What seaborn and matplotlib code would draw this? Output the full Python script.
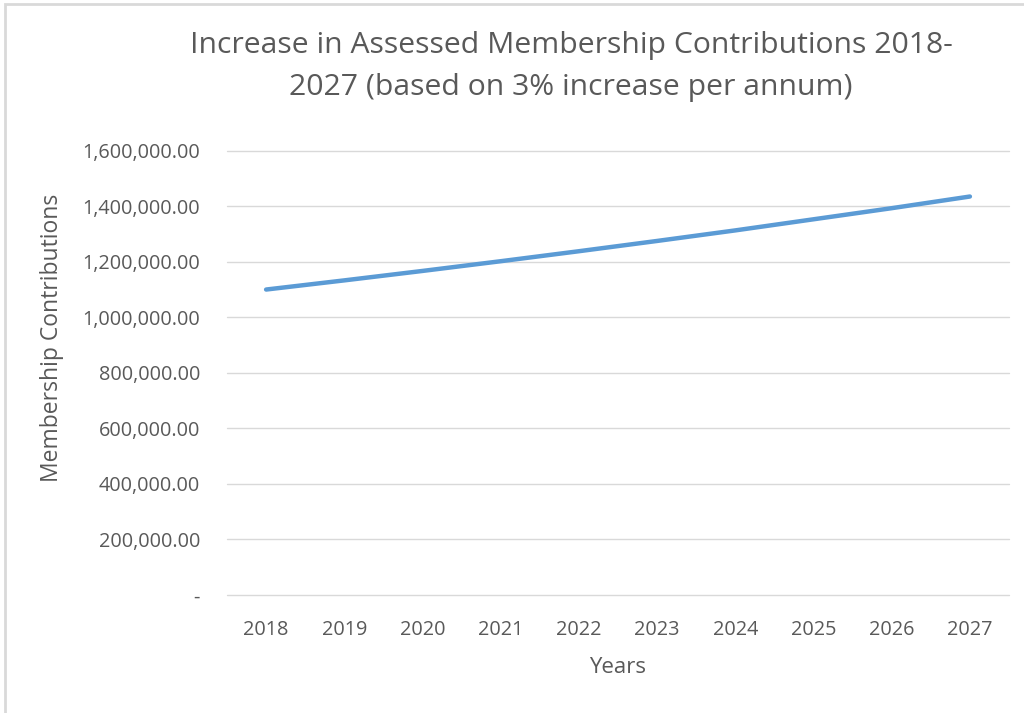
import matplotlib
matplotlib.use("Agg")
import matplotlib.pyplot as plt
import seaborn as sns
import pandas as pd
from matplotlib.ticker import FuncFormatter
from matplotlib.patches import Rectangle

years = ["2018", "2019", "2020", "2021", "2022", "2023", "2024", "2025", "2026", "2027"]
contributions = [1100000, 1133000, 1167000, 1202000, 1238000, 1275000, 1313000, 1353000, 1393000, 1435000]
y_ticks = [0, 200000, 400000, 600000, 800000, 1000000, 1200000, 1400000, 1600000]

sns.set_theme(style="white")
plt.rcParams['font.family'] = ['Open Sans', 'DejaVu Sans']

df = pd.DataFrame({"Years": years, "Contributions": contributions})

fig = plt.figure(figsize=(10.24, 7.13), dpi=100)
ax = fig.add_axes([227/1024, 1 - 595/713, (1009 - 227)/1024, (595 - 150.7)/713])

sns.lineplot(data=df, x="Years", y="Contributions", ax=ax, color="#5B9BD5",
             linewidth=3.2, sort=False, solid_capstyle="round")

ax.set_ylim(0, 1600000)
ax.set_xlim(-0.5, len(years) - 0.5)
ax.set_yticks(y_ticks)
ax.yaxis.set_major_formatter(FuncFormatter(lambda v, p: "-" if v == 0 else f"{v:,.2f}"))
ax.grid(axis="y", color="#D9D9D9", linewidth=1)
ax.grid(axis="x", visible=False)
for gl in ax.get_ygridlines():
    gl.set_clip_on(False)
for s in ax.spines.values():
    s.set_visible(False)
ax.tick_params(axis="both", length=0, colors="#595959", labelsize=14.3)
ax.tick_params(axis="y", pad=19.5)
ax.tick_params(axis="x", pad=18)

ax.set_xlabel("Years", fontsize=16, color="#595959", labelpad=12)
ax.set_ylabel("Membership Contributions", fontsize=16.5, color="#595959", va="center")
ax.yaxis.set_label_coords((52 - 227) / 782, (595 - 338) / 444.3)

fig.text(571/1024, 1 - 45/713, "Increase in Assessed Membership Contributions 2018-",
         ha="center", va="center", fontsize=21.7, color="#595959")
fig.text(571/1024, 1 - 88/713, "2027 (based on 3% increase per annum)",
         ha="center", va="center", fontsize=21.7, color="#595959")

fig.patches.append(Rectangle((5/1024, -0.01), 1.02, 1 - 4/713 + 0.01, transform=fig.transFigure,
                             fill=False, edgecolor="#D9D9D9", linewidth=2))

fig.savefig("out.png", dpi=100)
